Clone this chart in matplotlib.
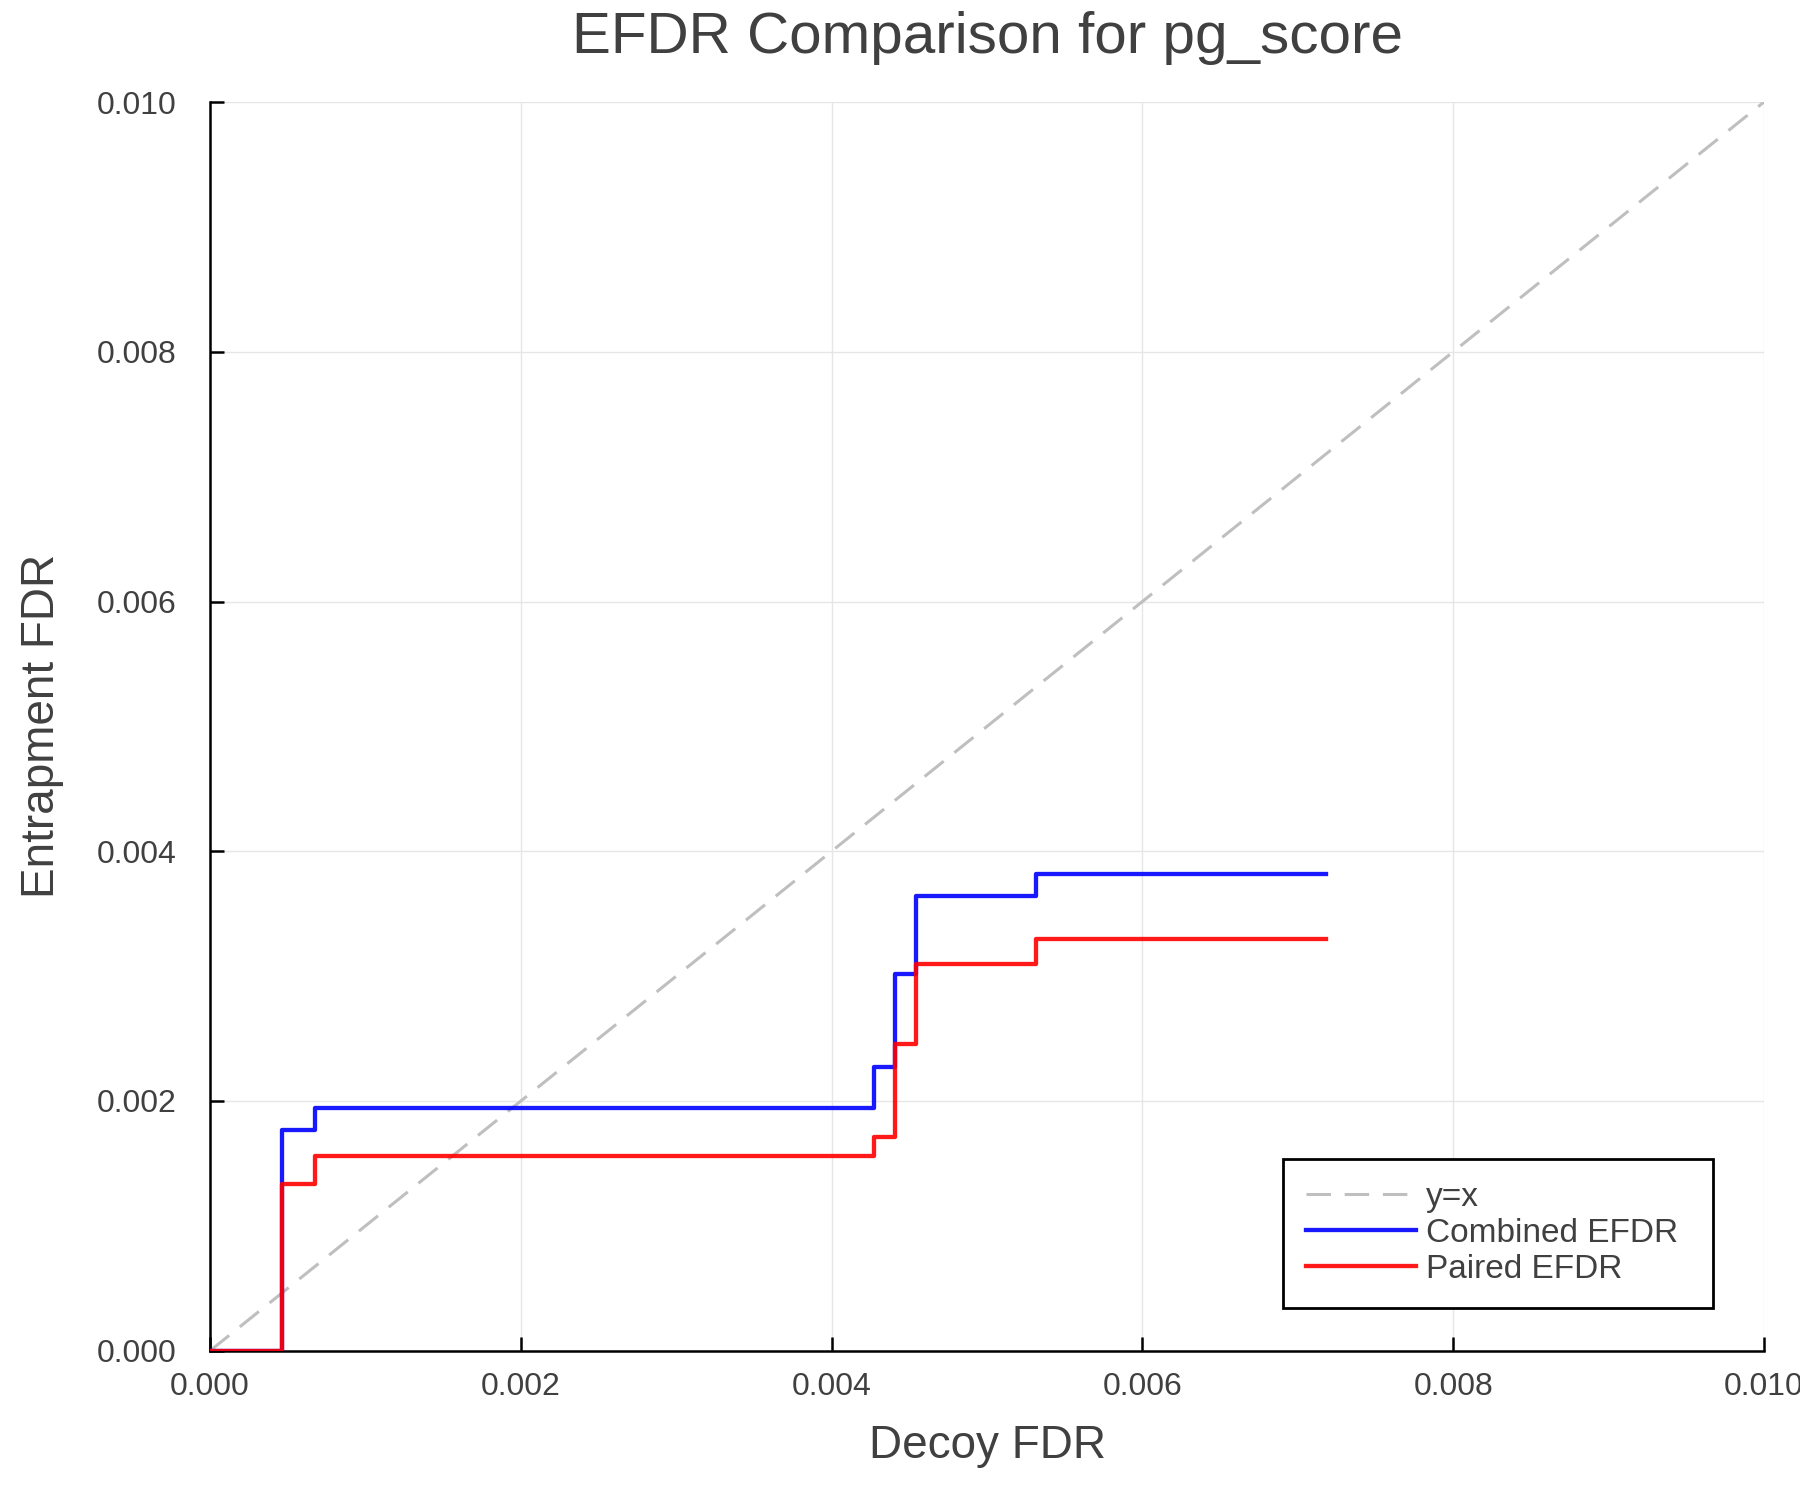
import matplotlib
matplotlib.use("Agg")
import matplotlib.pyplot as plt

# ---- data ----
decoy_fdr = [0.0, 0.000461, 0.000675, 0.004271, 0.004405, 0.004546, 0.005314, 0.007184]
combined_efdr = [0.0, 0.001767, 0.001941, 0.002274, 0.003014, 0.003644, 0.003818, 0.003818]
paired_efdr = [0.0, 0.001333, 0.001557, 0.001709, 0.002454, 0.003096, 0.003297, 0.003297]
diag = [0.0, 0.010]
ticks = [0.000, 0.002, 0.004, 0.006, 0.008, 0.010]
tick_labels = ["0.000", "0.002", "0.004", "0.006", "0.008", "0.010"]

TXT = "#404040"
plt.rcParams['font.family'] = ['Liberation Sans', 'DejaVu Sans']

fig = plt.figure(figsize=(18, 15), dpi=100)
ax = fig.add_axes([0.1167, 0.0995, 0.980 - 0.1167, 0.932 - 0.0995])

ax.plot(diag, diag, color="#bfbfbf", lw=2.2, ls=(0, (8, 4.5)), label="y=x", zorder=2)
ax.plot(decoy_fdr, combined_efdr, color="#0000ff", lw=3.1, drawstyle="steps-post",
        label="Combined EFDR", zorder=3, alpha=0.9)
ax.plot(decoy_fdr, paired_efdr, color="#ff0000", lw=3.1, drawstyle="steps-post",
        label="Paired EFDR", zorder=4, alpha=0.9)

ax.set_xlim(0, 0.010)
ax.set_ylim(0, 0.010)
ax.set_xticks(ticks)
ax.set_xticklabels(tick_labels)
ax.set_yticks(ticks)
ax.set_yticklabels(tick_labels)

ax.grid(True, color="#e6e6e6", lw=1.0, zorder=0)
ax.set_axisbelow(True)
for s in ["top", "right"]:
    ax.spines[s].set_visible(False)
for s in ["left", "bottom"]:
    ax.spines[s].set_color("black")
    ax.spines[s].set_linewidth(1.8)

ax.tick_params(axis="both", direction="in", length=10, width=1.8, color="black",
               labelsize=23, labelcolor=TXT)
ax.tick_params(axis="y", pad=24)
ax.tick_params(axis="x", pad=15)

ax.set_title("EFDR Comparison for pg_score", fontsize=42, color=TXT, pad=35)
ax.set_xlabel("Decoy FDR", fontsize=33, color=TXT, labelpad=16)
ax.set_ylabel("Entrapment FDR", fontsize=33, color=TXT, labelpad=24)

leg = ax.legend(loc="lower left", bbox_to_anchor=(0.6903, 0.034, 0.2766, 0.1),
                mode="expand", borderaxespad=0.0, fontsize=24, handlelength=3.3,
                handletextpad=0.3, labelspacing=0.15, borderpad=0.7,
                fancybox=False, framealpha=1, edgecolor="black")
leg.get_frame().set_linewidth(2.0)
for t in leg.get_texts():
    t.set_color(TXT)

fig.savefig("out.png", dpi=100, facecolor="white")
